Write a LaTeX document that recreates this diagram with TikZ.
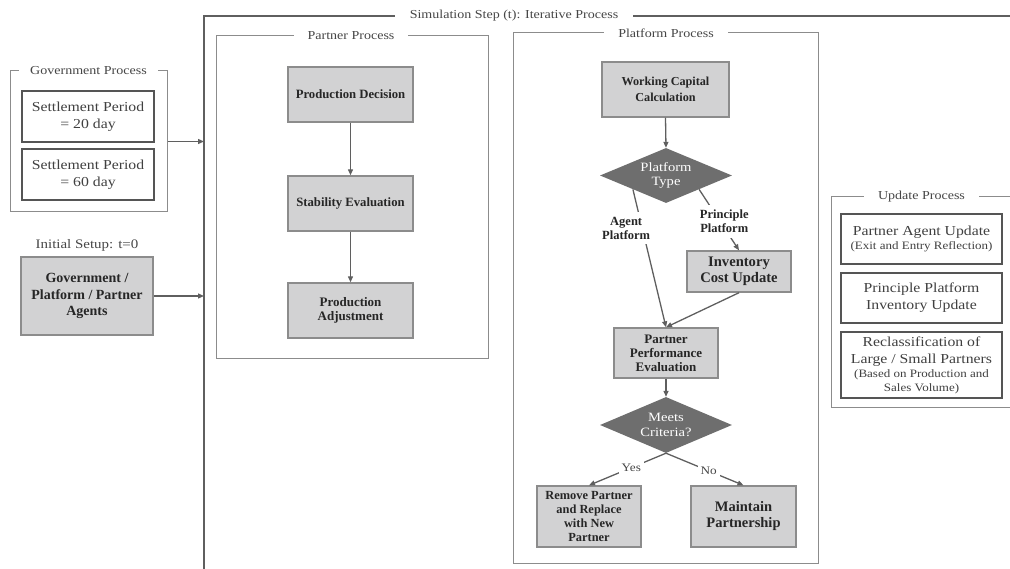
\documentclass[tikz,border=0pt]{standalone}
\usepackage{fontspec}
\setmainfont{Liberation Serif}
\newfontfamily\wide{Liberation Serif}[FakeStretch=1.15]
\usetikzlibrary{shapes.geometric,arrows.meta}
\definecolor{boxfill}{RGB}{210,210,211}
\definecolor{boxline}{RGB}{140,140,140}
\definecolor{diafill}{RGB}{110,110,110}
\definecolor{lincol}{RGB}{95,95,95}
\definecolor{frmcol}{RGB}{140,140,140}
\definecolor{txtcol}{RGB}{70,70,70}
\definecolor{wbline}{RGB}{85,85,85}
\newcommand\fsz[2]{\fontsize{#1}{#2}\selectfont}
\begin{document}
\begin{tikzpicture}[x=1pt,y=-1pt,
  graybox/.style={draw=boxline, line width=1.4pt, fill=boxfill, align=center, text=black!85, inner sep=0pt},
  whitebox/.style={draw=wbline, line width=1.6pt, fill=white, align=center, text=black!75, inner sep=0pt, font=\wide\fsz{13.7}{17}},
  frame/.style={draw=frmcol, line width=1pt, inner sep=0pt},
  ftitle/.style={fill=white, inner xsep=14pt, inner ysep=1pt, font=\wide\fsz{12.2}{14}, text=txtcol},
  dia/.style={diamond, fill=diafill, draw=none, aspect=2.4, minimum width=132pt, minimum height=55pt, inner sep=0pt, text=white, align=center, font=\wide\fsz{12.7}{14.3}},
  arr/.style={draw=lincol, line width=1.3pt, -{Triangle[length=6pt,width=5pt]}},
  blbl/.style={fill=white, align=center, font=\bfseries\fsz{12.5}{14}, inner xsep=1pt, inner ysep=5pt, text=black!85},
  ylbl/.style={fill=white, align=center, font=\wide\fsz{11.5}{13}, inner sep=3pt, text=txtcol}
]
\useasboundingbox (0,0) rectangle (1010,569);

% Simulation step frame
\coordinate (simTL) at (204,16);
\draw[draw=lincol, line width=2pt] (1012,16) -- (simTL) -- (204,571);
\node[ftitle, inner xsep=15pt] (simT) at (514,16) {Simulation Step (t): Iterative Process};

% Government process
\node[frame, minimum width=157pt, minimum height=141pt] (govF) at (88.5,141.5) {};
\node[ftitle, inner xsep=11pt] at (govF.north) {Government Process};
\node[whitebox, minimum width=132pt, minimum height=51pt] (s20) at (88,116.5) {Settlement Period\\= 20 day};
\node[whitebox, minimum width=132pt, minimum height=51pt] (s60) at (88,174.5) {Settlement Period\\= 60 day};

% Initial setup
\node[font=\wide\fsz{13}{15}, text=txtcol, inner sep=0pt] (initT) at (87,245) {Initial Setup: t=0};
\node[graybox, minimum width=132pt, minimum height=78pt, font=\bfseries\fsz{14}{16.5}] (init) at (87,296) {Government /\\Platform / Partner\\Agents};

\draw[arr] (govF.east) -- (govF.east -| simTL);
\draw[arr] (init.east) -- (init.east -| simTL);

% Partner process
\node[frame, minimum width=272pt, minimum height=323pt] (parF) at (352,197.5) {};
\node[ftitle] at (351,36) {Partner Process};
\node[graybox, minimum width=125pt, minimum height=55pt, font=\bfseries\fsz{12.7}{14}] (pd) at (350.5,94.5) {Production Decision};
\node[graybox, minimum width=125pt, minimum height=55pt, font=\bfseries\fsz{12.7}{14}] (se) at (350.5,203.5) {Stability Evaluation};
\node[graybox, minimum width=125pt, minimum height=55pt, font=\bfseries\fsz{13}{14}] (pa) at (350.5,310.5) {Production\\Adjustment};
\draw[arr] (pd.south) -- (se.north);
\draw[arr] (se.south) -- (pa.north);

% Platform process
\node[frame, minimum width=305pt, minimum height=530pt] (plaF) at (665.5,298) {};
\node[ftitle] at (666,33) {Platform Process};
\node[graybox, minimum width=127pt, minimum height=55pt, font=\bfseries\fsz{12.2}{16}] (wcc) at (665.5,89.5) {Working Capital\\Calculation};
\node[dia] (pt) at (666,175.5) {Platform\\Type};
\node[graybox, minimum width=104pt, minimum height=41pt, font=\bfseries\fsz{14.6}{16}] (inv) at (739,271.5) {Inventory\\Cost Update};
\node[graybox, minimum width=104pt, minimum height=50pt, font=\bfseries\fsz{13}{14}] (ppe) at (666,353) {Partner\\Performance\\Evaluation};
\node[dia, minimum height=56pt] (mc) at (666,425) {Meets\\Criteria?};
\node[graybox, minimum width=104pt, minimum height=61pt, font=\bfseries\fsz{12.4}{13.7}] (rem) at (589,516.5) {Remove Partner\\and Replace\\with New\\Partner};
\node[graybox, minimum width=105pt, minimum height=61pt, font=\bfseries\fsz{14.5}{16}] (mnt) at (743.5,516.5) {Maintain\\Partnership};

\draw[arr] (wcc.south) -- (pt.north);
\draw[arr] (pt.south west) -- node[blbl, pos=0.28, xshift=-16pt] {Agent\\Platform} (ppe.north);
\draw[arr] (pt.south east) -- node[blbl, pos=0.53, xshift=4pt] {Principle\\Platform} (inv.north);
\draw[arr] (inv.south) -- (ppe.north);
\draw[arr] (ppe.south) -- (mc.north);
\draw[arr] (mc.south) -- node[ylbl, pos=0.45] {Yes} (rem.north);
\draw[arr] (mc.south) -- node[ylbl, pos=0.55] {No} (mnt.north);

% Update process
\node[frame, minimum width=180pt, minimum height=211pt] (updF) at (921,302.5) {};
\node[ftitle] at (921.5,197) {Update Process};
\node[whitebox, minimum width=161pt, minimum height=50pt] (ua) at (921.5,239) {Partner Agent Update\\[-3pt]{\fsz{11.3}{13}(Exit and Entry Reflection)}};
\node[whitebox, minimum width=161pt, minimum height=50pt] (up) at (921.5,298) {Principle Platform\\Inventory Update};
\node[whitebox, minimum width=161pt, minimum height=66pt] (ur) at (921.5,365) {Reclassification of\\Large / Small Partners\\[-3pt]{\fsz{11.3}{12.7}(Based on Production and}\\[-3pt]{\fsz{11.3}{12.7}Sales Volume)}};
\end{tikzpicture}
\end{document}
